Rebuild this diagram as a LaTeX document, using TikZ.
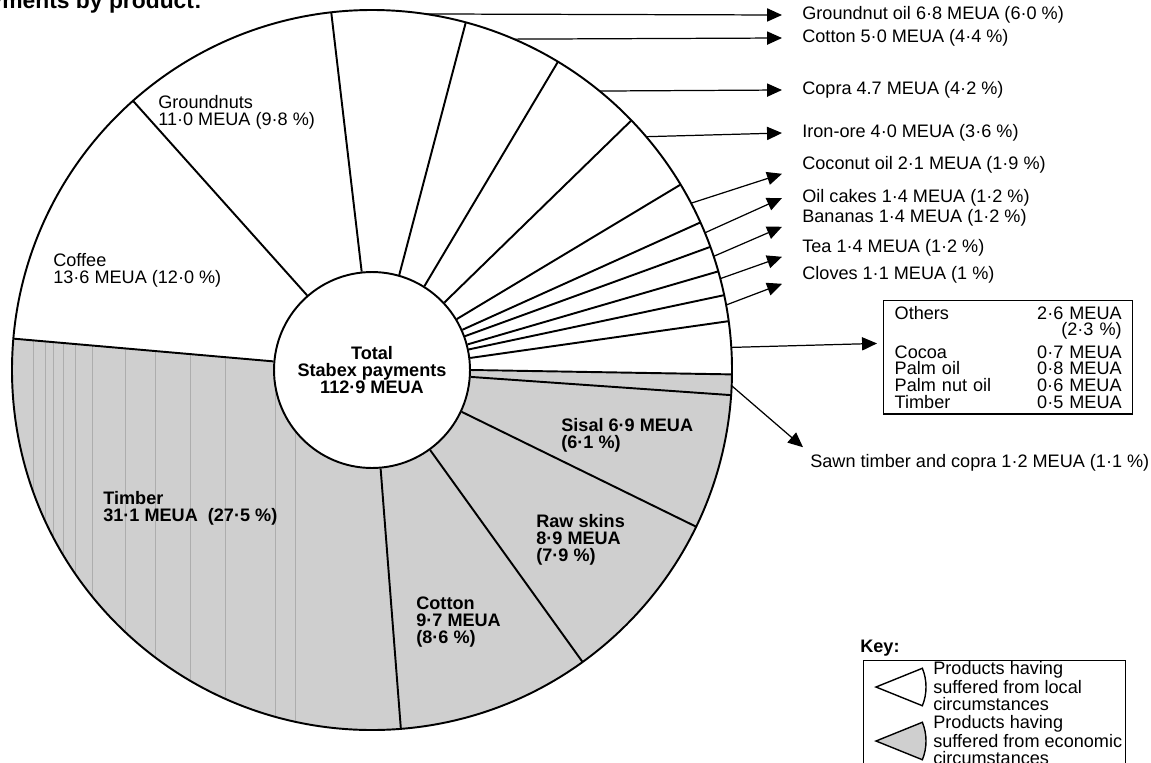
\documentclass[tikz,border=0pt]{standalone}
\usepackage{fontspec}
\setmainfont{Liberation Sans}
\usepackage{tikz}
\usetikzlibrary{arrows.meta,positioning}
\newcommand{\pieR}{360}
\newcommand{\keyR}{50}

\begin{document}
\begin{tikzpicture}[
  x=0.02cm, y=0.02cm,
  font=\fontsize{10.3}{9.6}\selectfont,
  rim/.style={line width=1.1pt},
  econ/.style={fill=black!19},
  streak/.style={black!32, line width=0.3pt},
  hub/.style={draw, circle, fill=white, line width=1.1pt, minimum size=3.92cm, inner sep=0pt, align=center, font=\fontsize{10.3}{9.6}\selectfont\bfseries},
  lbl/.style={anchor=west, align=left, inner sep=0pt},
  glbl/.style={lbl, font=\fontsize{10.3}{9.6}\selectfont\bfseries},
  side/.style={anchor=west, inner xsep=0.4cm, inner ysep=0pt},
  othbox/.style={draw, line width=0.8pt, anchor=north west, align=left, text width=4.54cm, inner xsep=0.22cm, inner ysep=3pt},
  keybox/.style={draw, line width=0.8pt, anchor=north west, minimum width=5.24cm, minimum height=2.4cm, inner sep=0pt},
  arrow/.style={-{Triangle[length=8.5pt,width=7.5pt]}, line width=0.7pt}
]
\useasboundingbox (-372,-392) rectangle (779,370);

\node[anchor=base east, inner sep=0pt, font=\fontsize{13}{15}\selectfont\bfseries] (title) at (-170,362) {Stabex payments by product:};

% shaded sectors (economic circumstances)
\fill[econ] (0,0) -- (-0.7:\pieR) arc[start angle=-0.7, end angle=-185, radius=\pieR] -- cycle;
\begin{scope}
  \clip (0,0) -- (-85.4:\pieR) arc[start angle=-85.4, end angle=-185, radius=\pieR] -- cycle;
  \draw[streak] (-339,40) -- (-339,-400) (-327,40) -- (-327,-400) (-319,40) -- (-319,-400)
    (-309,40) -- (-309,-400) (-297,40) -- (-297,-400) (-280,40) -- (-280,-400)
    (-247,40) -- (-247,-400) (-217,40) -- (-217,-400) (-182,40) -- (-182,-400)
    (-147,40) -- (-147,-400) (-97,40) -- (-97,-400) (-77,-60) -- (-77,-400);
\end{scope}
\draw[rim] (0,0) circle[radius=\pieR];

\node[hub] (hub) at (0,0) {Total\\Stabex payments\\112·9 MEUA};

% sector borders
\draw[rim] (hub.175) -- (175:\pieR);
\draw[rim] (hub.131.6) -- (131.6:\pieR);
\draw[rim] (hub.96.5) -- (96.5:\pieR);
\draw[rim] (hub.74.9) -- (74.9:\pieR);
\draw[rim] (hub.58.9) -- (58.9:\pieR);
\draw[rim] (hub.43.9) -- (43.9:\pieR);
\draw[rim] (hub.31) -- (31:\pieR);
\draw[rim] (hub.24.2) -- (24.2:\pieR);
\draw[rim] (hub.20) -- (20:\pieR);
\draw[rim] (hub.15.9) -- (15.9:\pieR);
\draw[rim] (hub.12) -- (12:\pieR);
\draw[rim] (hub.7.8) -- (7.8:\pieR);
\draw[rim] (hub.-0.7) -- (-0.7:\pieR);
\draw[rim] (hub.-4) -- (-4:\pieR);
\draw[rim] (hub.-25.8) -- (-25.8:\pieR);
\draw[rim] (hub.-54.2) -- (-54.2:\pieR);
\draw[rim] (hub.-85.4) -- (-85.4:\pieR);

% labels inside the pie
\node[lbl] (coffee) at (-319,99.5) {Coffee\\13·6 MEUA (12·0 \%)};
\node[lbl] (gnuts) at (-214,257.5) {Groundnuts\\11·0 MEUA (9·8 \%)};
\node[glbl] (timber) at (-269,-138.5) {Timber\\31·1 MEUA\ \ (27·5 \%)};
\node[glbl] (cottonp) at (44,-251.7) {Cotton\\9·7 MEUA\\(8·6 \%)};
\node[glbl] (skins) at (164,-169.7) {Raw skins\\8·9 MEUA\\(7·9 \%)};
\node[glbl] (sisal) at (189,-65) {Sisal 6·9 MEUA\\(6·1 \%)};

% labels outside the pie
\node[side] (gnoil) at (410,355) {Groundnut oil 6·8 MEUA (6·0 \%)};
\node[side] (cotton) at (410,332) {Cotton 5·0 MEUA (4·4 \%)};
\node[side] (copra) at (410,280) {Copra 4.7 MEUA (4·2 \%)};
\node[side] (iron) at (410,237) {Iron-ore 4·0 MEUA (3·6 \%)};
\node[side] (coco) at (410,205) {Coconut oil 2·1 MEUA (1·9 \%)};
\node[side] (cakes) at (410,172) {Oil cakes 1·4 MEUA (1·2 \%)};
\node[side] (banana) at (410,152) {Bananas 1·4 MEUA (1·2 \%)};
\node[side] (tea) at (410,122) {Tea 1·4 MEUA (1·2 \%)};
\node[side] (cloves) at (410,95) {Cloves 1·1 MEUA (1 \%)};
\node[lbl] (sawn) at (438,-93) {Sawn timber and copra 1·2 MEUA (1·1 \%)};
\node[othbox] (others) at (511,70) {Others\hfill 2·6 MEUA\\\hfill (2·3 \%)\\[3pt]Cocoa\hfill 0·7 MEUA\\Palm oil\hfill 0·8 MEUA\\Palm nut oil\hfill 0·6 MEUA\\Timber\hfill 0·5 MEUA};

% arrow tails on the rim
\coordinate (t-gnoil) at (81.5:\pieR);
\coordinate (t-cotton) at (66.8:\pieR);
\coordinate (t-copra) at (50.8:\pieR);
\coordinate (t-iron) at (40.4:\pieR);
\coordinate (t-coco) at (27.6:\pieR);
\coordinate (t-cakes) at (22.4:\pieR);
\coordinate (t-banana) at (18.4:\pieR);
\coordinate (t-tea) at (14.7:\pieR);
\coordinate (t-cloves) at (10.4:\pieR);
\coordinate (t-others) at (3.6:\pieR);
\coordinate (t-sawn) at (-2.5:\pieR);

\draw[arrow] (t-gnoil) -- (gnoil.west);
\draw[arrow] (t-cotton) -- (cotton.west);
\draw[arrow] (t-copra) -- (copra.west);
\draw[arrow] (t-iron) -- (iron.west);
\draw[arrow] (t-coco) -- (coco.south west);
\draw[arrow] (t-cakes) -- (cakes.west);
\draw[arrow] (t-banana) -- (banana.south west);
\draw[arrow] (t-tea) -- (tea.south west);
\draw[arrow] (t-cloves) -- (cloves.south west);
\draw[arrow] (t-others) -- ([shift={(-6,14)}]others.west);
\draw[arrow] (t-sawn) -- ([shift={(-7,7)}]sawn.north west);

% key
\node[anchor=west, inner sep=0pt, font=\fontsize{10.3}{9.6}\selectfont\bfseries] (keyt) at (488,-278) {Key:};
\node[keybox] (key) at (491,-290) {};
\draw[line width=0.8pt] (504,-317) -- ++(22:\keyR) arc[start angle=22, end angle=-22, radius=\keyR] -- cycle;
\filldraw[econ, line width=0.8pt] (504,-371) -- ++(22:\keyR) arc[start angle=22, end angle=-22, radius=\keyR] -- cycle;
\node[lbl] (klocal) at (561,-316) {Products having\\suffered from local\\circumstances};
\node[lbl] (kecon) at (561,-370) {Products having\\suffered from economic\\circumstances};
\end{tikzpicture}
\end{document}
